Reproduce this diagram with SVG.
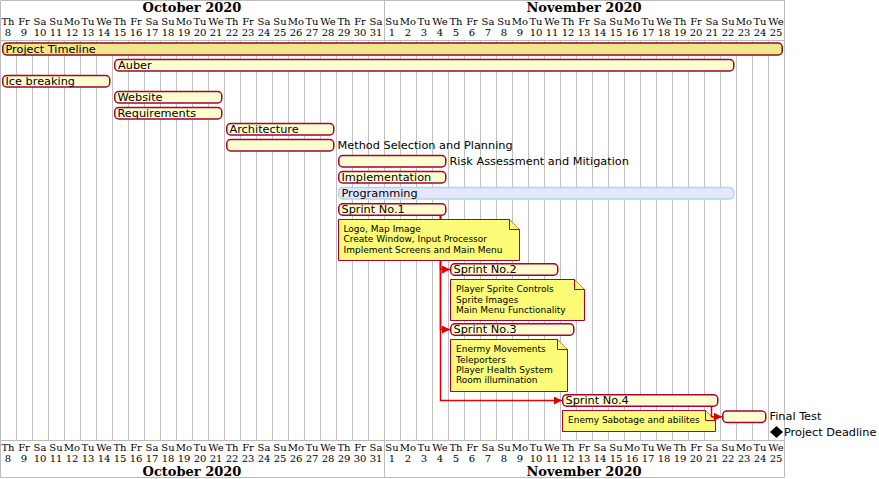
<svg xmlns="http://www.w3.org/2000/svg" width="879" height="479" viewBox="0 0 879 479">
<style>
.grid{stroke:#C0C0C0;stroke-width:1;fill:none}
.frame{stroke:#BCBCBC;stroke-width:1;fill:none}
.dn{font-family:"DejaVu Serif",serif;font-size:10px;text-anchor:middle;fill:#000}
.mo{font-family:"DejaVu Serif",serif;font-size:13px;font-weight:bold;text-anchor:middle;fill:#000}
.bar{fill:#FEFECE;stroke:#A80036;stroke-width:1.5}
.lbl{font-family:"DejaVu Sans",sans-serif;font-size:11.3px;fill:#000}
.note{fill:#FBFB77;stroke:#A80036;stroke-width:1}
.nt{font-family:"DejaVu Sans",sans-serif;font-size:9px;fill:#000}
.arr{stroke:#E00000;stroke-width:1.5;fill:none}
</style>
<defs>
<marker id="ah" viewBox="0 0 8 8" refX="8" refY="4" markerWidth="8" markerHeight="8" markerUnits="userSpaceOnUse" orient="auto">
<path d="M0,0 L8,4 L0,8 Z" fill="#E00000"/>
</marker>
</defs>
<rect x="0" y="0" width="879" height="479" fill="#FFFFFF"/>
<g id="grid">
<path class="grid" d="M16.5 40V441M32.5 40V441M48.5 40V441M64.5 40V441M80.5 40V441M96.5 40V441M112.5 40V441M128.5 40V441M144.5 40V441M160.5 40V441M176.5 40V441M192.5 40V441M208.5 40V441M224.5 40V441M240.5 40V441M256.5 40V441M272.5 40V441M288.5 40V441M304.5 40V441M320.5 40V441M336.5 40V441M352.5 40V441M368.5 40V441M384.5 40V441M400.5 40V441M416.5 40V441M432.5 40V441M448.5 40V441M464.5 40V441M480.5 40V441M496.5 40V441M512.5 40V441M528.5 40V441M544.5 40V441M560.5 40V441M576.5 40V441M592.5 40V441M608.5 40V441M624.5 40V441M640.5 40V441M656.5 40V441M672.5 40V441M688.5 40V441M704.5 40V441M720.5 40V441M736.5 40V441M752.5 40V441M768.5 40V441"/>
<path class="frame" d="M0.5 0.5H784.5V477.5H0.5Z M0.5 40.5H784.5 M0.5 440.5H784.5 M384.5 0.5V40.5 M384.5 440.5V477.5"/>
</g>
<g id="header-top">
<text class="mo" x="192" y="11.5">October 2020</text>
<text class="mo" x="584" y="11.5">November 2020</text>
<text class="dn" x="8" y="25">Th</text><text class="dn" x="24" y="25">Fr</text><text class="dn" x="40" y="25">Sa</text><text class="dn" x="56" y="25">Su</text><text class="dn" x="72" y="25">Mo</text><text class="dn" x="88" y="25">Tu</text><text class="dn" x="104" y="25">We</text>
<text class="dn" x="120" y="25">Th</text><text class="dn" x="136" y="25">Fr</text><text class="dn" x="152" y="25">Sa</text><text class="dn" x="168" y="25">Su</text><text class="dn" x="184" y="25">Mo</text><text class="dn" x="200" y="25">Tu</text><text class="dn" x="216" y="25">We</text>
<text class="dn" x="232" y="25">Th</text><text class="dn" x="248" y="25">Fr</text><text class="dn" x="264" y="25">Sa</text><text class="dn" x="280" y="25">Su</text><text class="dn" x="296" y="25">Mo</text><text class="dn" x="312" y="25">Tu</text><text class="dn" x="328" y="25">We</text>
<text class="dn" x="344" y="25">Th</text><text class="dn" x="360" y="25">Fr</text><text class="dn" x="376" y="25">Sa</text><text class="dn" x="392" y="25">Su</text><text class="dn" x="408" y="25">Mo</text><text class="dn" x="424" y="25">Tu</text><text class="dn" x="440" y="25">We</text>
<text class="dn" x="456" y="25">Th</text><text class="dn" x="472" y="25">Fr</text><text class="dn" x="488" y="25">Sa</text><text class="dn" x="504" y="25">Su</text><text class="dn" x="520" y="25">Mo</text><text class="dn" x="536" y="25">Tu</text><text class="dn" x="552" y="25">We</text>
<text class="dn" x="568" y="25">Th</text><text class="dn" x="584" y="25">Fr</text><text class="dn" x="600" y="25">Sa</text><text class="dn" x="616" y="25">Su</text><text class="dn" x="632" y="25">Mo</text><text class="dn" x="648" y="25">Tu</text><text class="dn" x="664" y="25">We</text>
<text class="dn" x="680" y="25">Th</text><text class="dn" x="696" y="25">Fr</text><text class="dn" x="712" y="25">Sa</text><text class="dn" x="728" y="25">Su</text><text class="dn" x="744" y="25">Mo</text><text class="dn" x="760" y="25">Tu</text><text class="dn" x="776" y="25">We</text>
<text class="dn" x="8" y="36">8</text><text class="dn" x="24" y="36">9</text><text class="dn" x="40" y="36">10</text><text class="dn" x="56" y="36">11</text><text class="dn" x="72" y="36">12</text><text class="dn" x="88" y="36">13</text><text class="dn" x="104" y="36">14</text>
<text class="dn" x="120" y="36">15</text><text class="dn" x="136" y="36">16</text><text class="dn" x="152" y="36">17</text><text class="dn" x="168" y="36">18</text><text class="dn" x="184" y="36">19</text><text class="dn" x="200" y="36">20</text><text class="dn" x="216" y="36">21</text>
<text class="dn" x="232" y="36">22</text><text class="dn" x="248" y="36">23</text><text class="dn" x="264" y="36">24</text><text class="dn" x="280" y="36">25</text><text class="dn" x="296" y="36">26</text><text class="dn" x="312" y="36">27</text><text class="dn" x="328" y="36">28</text>
<text class="dn" x="344" y="36">29</text><text class="dn" x="360" y="36">30</text><text class="dn" x="376" y="36">31</text><text class="dn" x="392" y="36">1</text><text class="dn" x="408" y="36">2</text><text class="dn" x="424" y="36">3</text><text class="dn" x="440" y="36">4</text>
<text class="dn" x="456" y="36">5</text><text class="dn" x="472" y="36">6</text><text class="dn" x="488" y="36">7</text><text class="dn" x="504" y="36">8</text><text class="dn" x="520" y="36">9</text><text class="dn" x="536" y="36">10</text><text class="dn" x="552" y="36">11</text>
<text class="dn" x="568" y="36">12</text><text class="dn" x="584" y="36">13</text><text class="dn" x="600" y="36">14</text><text class="dn" x="616" y="36">15</text><text class="dn" x="632" y="36">16</text><text class="dn" x="648" y="36">17</text><text class="dn" x="664" y="36">18</text>
<text class="dn" x="680" y="36">19</text><text class="dn" x="696" y="36">20</text><text class="dn" x="712" y="36">21</text><text class="dn" x="728" y="36">22</text><text class="dn" x="744" y="36">23</text><text class="dn" x="760" y="36">24</text><text class="dn" x="776" y="36">25</text>
</g>
<g id="header-bottom">
<text class="dn" x="8" y="450.5">Th</text><text class="dn" x="24" y="450.5">Fr</text><text class="dn" x="40" y="450.5">Sa</text><text class="dn" x="56" y="450.5">Su</text><text class="dn" x="72" y="450.5">Mo</text><text class="dn" x="88" y="450.5">Tu</text><text class="dn" x="104" y="450.5">We</text>
<text class="dn" x="120" y="450.5">Th</text><text class="dn" x="136" y="450.5">Fr</text><text class="dn" x="152" y="450.5">Sa</text><text class="dn" x="168" y="450.5">Su</text><text class="dn" x="184" y="450.5">Mo</text><text class="dn" x="200" y="450.5">Tu</text><text class="dn" x="216" y="450.5">We</text>
<text class="dn" x="232" y="450.5">Th</text><text class="dn" x="248" y="450.5">Fr</text><text class="dn" x="264" y="450.5">Sa</text><text class="dn" x="280" y="450.5">Su</text><text class="dn" x="296" y="450.5">Mo</text><text class="dn" x="312" y="450.5">Tu</text><text class="dn" x="328" y="450.5">We</text>
<text class="dn" x="344" y="450.5">Th</text><text class="dn" x="360" y="450.5">Fr</text><text class="dn" x="376" y="450.5">Sa</text><text class="dn" x="392" y="450.5">Su</text><text class="dn" x="408" y="450.5">Mo</text><text class="dn" x="424" y="450.5">Tu</text><text class="dn" x="440" y="450.5">We</text>
<text class="dn" x="456" y="450.5">Th</text><text class="dn" x="472" y="450.5">Fr</text><text class="dn" x="488" y="450.5">Sa</text><text class="dn" x="504" y="450.5">Su</text><text class="dn" x="520" y="450.5">Mo</text><text class="dn" x="536" y="450.5">Tu</text><text class="dn" x="552" y="450.5">We</text>
<text class="dn" x="568" y="450.5">Th</text><text class="dn" x="584" y="450.5">Fr</text><text class="dn" x="600" y="450.5">Sa</text><text class="dn" x="616" y="450.5">Su</text><text class="dn" x="632" y="450.5">Mo</text><text class="dn" x="648" y="450.5">Tu</text><text class="dn" x="664" y="450.5">We</text>
<text class="dn" x="680" y="450.5">Th</text><text class="dn" x="696" y="450.5">Fr</text><text class="dn" x="712" y="450.5">Sa</text><text class="dn" x="728" y="450.5">Su</text><text class="dn" x="744" y="450.5">Mo</text><text class="dn" x="760" y="450.5">Tu</text><text class="dn" x="776" y="450.5">We</text>
<text class="dn" x="8" y="461.5">8</text><text class="dn" x="24" y="461.5">9</text><text class="dn" x="40" y="461.5">10</text><text class="dn" x="56" y="461.5">11</text><text class="dn" x="72" y="461.5">12</text><text class="dn" x="88" y="461.5">13</text><text class="dn" x="104" y="461.5">14</text>
<text class="dn" x="120" y="461.5">15</text><text class="dn" x="136" y="461.5">16</text><text class="dn" x="152" y="461.5">17</text><text class="dn" x="168" y="461.5">18</text><text class="dn" x="184" y="461.5">19</text><text class="dn" x="200" y="461.5">20</text><text class="dn" x="216" y="461.5">21</text>
<text class="dn" x="232" y="461.5">22</text><text class="dn" x="248" y="461.5">23</text><text class="dn" x="264" y="461.5">24</text><text class="dn" x="280" y="461.5">25</text><text class="dn" x="296" y="461.5">26</text><text class="dn" x="312" y="461.5">27</text><text class="dn" x="328" y="461.5">28</text>
<text class="dn" x="344" y="461.5">29</text><text class="dn" x="360" y="461.5">30</text><text class="dn" x="376" y="461.5">31</text><text class="dn" x="392" y="461.5">1</text><text class="dn" x="408" y="461.5">2</text><text class="dn" x="424" y="461.5">3</text><text class="dn" x="440" y="461.5">4</text>
<text class="dn" x="456" y="461.5">5</text><text class="dn" x="472" y="461.5">6</text><text class="dn" x="488" y="461.5">7</text><text class="dn" x="504" y="461.5">8</text><text class="dn" x="520" y="461.5">9</text><text class="dn" x="536" y="461.5">10</text><text class="dn" x="552" y="461.5">11</text>
<text class="dn" x="568" y="461.5">12</text><text class="dn" x="584" y="461.5">13</text><text class="dn" x="600" y="461.5">14</text><text class="dn" x="616" y="461.5">15</text><text class="dn" x="632" y="461.5">16</text><text class="dn" x="648" y="461.5">17</text><text class="dn" x="664" y="461.5">18</text>
<text class="dn" x="680" y="461.5">19</text><text class="dn" x="696" y="461.5">20</text><text class="dn" x="712" y="461.5">21</text><text class="dn" x="728" y="461.5">22</text><text class="dn" x="744" y="461.5">23</text><text class="dn" x="760" y="461.5">24</text><text class="dn" x="776" y="461.5">25</text>
<text class="mo" x="192" y="475.5">October 2020</text>
<text class="mo" x="584" y="475.5">November 2020</text>
</g>
<g id="task-project-timeline"><rect x="2.75" y="43" width="779.5" height="12" rx="4" style="fill:#F0E68C;stroke:#8B0A1E;stroke-width:1.5"/><text class="lbl" x="5.5" y="52.5">Project Timeline</text></g>
<g id="task-auber"><rect class="bar" x="114.75" y="59.5" width="619" height="11.5" rx="4"/><text class="lbl" x="118" y="68.5">Auber</text></g>
<g id="task-ice-breaking"><rect class="bar" x="2.75" y="75.5" width="107" height="11.5" rx="4"/><text class="lbl" x="5.5" y="84.5">Ice breaking</text></g>
<g id="task-website"><rect class="bar" x="114.75" y="91.5" width="107" height="11.5" rx="4"/><text class="lbl" x="117.5" y="100.5">Website</text></g>
<g id="task-requirements"><rect class="bar" x="114.75" y="107.5" width="107" height="11.5" rx="4"/><text class="lbl" x="117.5" y="116.5">Requirements</text></g>
<g id="task-architecture"><rect class="bar" x="226.75" y="123.5" width="107" height="11.5" rx="4"/><text class="lbl" x="229.5" y="132.5">Architecture</text></g>
<g id="task-method"><rect class="bar" x="226.75" y="139.5" width="107" height="11.5" rx="4"/><text class="lbl" x="337.5" y="148.5">Method Selection and Planning</text></g>
<g id="task-risk"><rect class="bar" x="338.75" y="155.5" width="107" height="11.5" rx="4"/><text class="lbl" x="449.5" y="164.5">Risk Assessment and Mitigation</text></g>
<g id="task-implementation"><rect class="bar" x="338.75" y="171.5" width="107" height="11.5" rx="4"/><text class="lbl" x="341.5" y="180.5">Implementation</text></g>
<g id="task-programming"><rect x="338.75" y="187.5" width="395" height="11.5" rx="4" style="fill:#E6E6FA;stroke:#ADD8E6;stroke-width:1.5"/><text class="lbl" x="341.5" y="196.5">Programming</text></g>
<g id="task-sprint1"><rect class="bar" x="338.75" y="203.75" width="107" height="11.5" rx="4"/><text class="lbl" x="341.5" y="212.75">Sprint No.1</text></g>
<g id="task-sprint2"><rect class="bar" x="450.75" y="263.75" width="107" height="11.5" rx="4"/><text class="lbl" x="453.5" y="272.75">Sprint No.2</text></g>
<g id="task-sprint3"><rect class="bar" x="450.75" y="323.75" width="123" height="11.5" rx="4"/><text class="lbl" x="453.5" y="332.75">Sprint No.3</text></g>
<g id="task-sprint4"><rect class="bar" x="562.75" y="394.75" width="155" height="11.5" rx="4"/><text class="lbl" x="565.5" y="403.75">Sprint No.4</text></g>
<g id="task-final-test"><rect class="bar" x="722.75" y="411" width="43" height="11.5" rx="4"/><text class="lbl" x="769.5" y="420">Final Test</text></g>
<g id="milestone-deadline"><path d="M776.5 426L783 432L776.5 438L770 432Z" fill="#000"/><text class="lbl" x="784" y="436">Project Deadline</text></g>
<g id="note-sprint4">
<path class="note" d="M562.5 410.5H705.5L715.5 420.5V431.5H562.5Z"/><path class="note" d="M705.5 410.5V420.5H715.5"/>
<text class="nt" x="568" y="423">Enemy Sabotage and abilites</text>
</g>
<g id="connectors">
<path class="arr" d="M440.5 215.5V269.5H450" marker-end="url(#ah)"/>
<path class="arr" d="M440.5 215.5V329.5H450" marker-end="url(#ah)"/>
<path class="arr" d="M440.5 215.5V400.5H562" marker-end="url(#ah)"/>
<path class="arr" d="M711.5 406.5V416.75H722" marker-end="url(#ah)"/>
</g>
<g id="note-sprint1">
<path class="note" d="M338.5 219.5H509.5L519.5 229.5V260.5H338.5Z"/><path class="note" d="M509.5 219.5V229.5H519.5"/>
<text class="nt" x="343.5" y="232">Logo, Map Image</text>
<text class="nt" x="343.5" y="242.3">Create Window, Input Processor</text>
<text class="nt" x="343.5" y="252.6">Implement Screens and Main Menu</text>
</g>
<g id="note-sprint2">
<path class="note" d="M450.5 279.5H574.5L584.5 289.5V320.5H450.5Z"/><path class="note" d="M574.5 279.5V289.5H584.5"/>
<text class="nt" x="456" y="292.3">Player Sprite Controls</text>
<text class="nt" x="456" y="302.6">Sprite Images</text>
<text class="nt" x="456" y="312.9">Main Menu Functionality</text>
</g>
<g id="note-sprint3">
<path class="note" d="M450.5 339.5H557.5L567.5 349.5V391.5H450.5Z"/><path class="note" d="M557.5 339.5V349.5H567.5"/>
<text class="nt" x="456" y="352.3">Enermy Movements</text>
<text class="nt" x="456" y="362.6">Teleporters</text>
<text class="nt" x="456" y="372.9">Player Health System</text>
<text class="nt" x="456" y="383.2">Room illumination</text>
</g>
</svg>
